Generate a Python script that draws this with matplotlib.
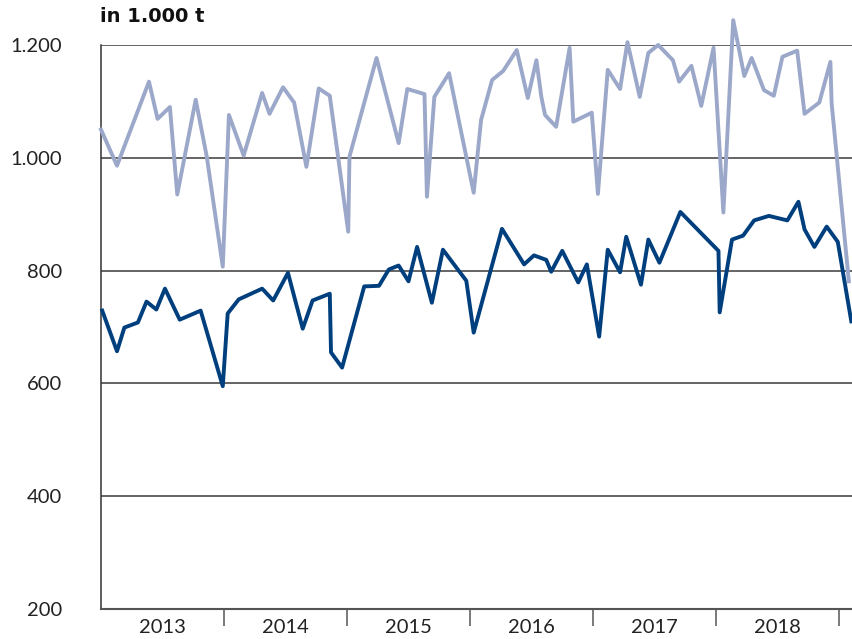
import numpy as np
import matplotlib.pyplot as plt

# Zeitpunkte als Dezimaljahre, Werte in 1.000 t
x_hell = [2013.00, 2013.13, 2013.39, 2013.46, 2013.56, 2013.62, 2013.77, 2013.86, 2013.99,
          2014.04, 2014.16, 2014.31, 2014.37, 2014.48, 2014.57, 2014.67, 2014.77, 2014.86,
          2015.01, 2015.02, 2015.24, 2015.42, 2015.49, 2015.63, 2015.65, 2015.71, 2015.83,
          2016.03, 2016.09, 2016.18, 2016.27, 2016.38, 2016.47, 2016.54, 2016.58, 2016.61,
          2016.70, 2016.81, 2016.84, 2016.99, 2017.04, 2017.12, 2017.22, 2017.28, 2017.38,
          2017.45, 2017.53, 2017.65, 2017.70, 2017.80, 2017.88, 2017.98, 2018.06, 2018.14,
          2018.23, 2018.29, 2018.39, 2018.47, 2018.54, 2018.66, 2018.72, 2018.84, 2018.93,
          2018.94, 2019.08]
y_hell = [1050, 986, 1135, 1069, 1090, 935, 1103, 1002, 807,
          1076, 1004, 1115, 1078, 1125, 1098, 984, 1123, 1110,
          869, 1002, 1177, 1026, 1122, 1113, 931, 1108, 1150,
          938, 1067, 1138, 1154, 1191, 1106, 1173, 1108, 1076,
          1055, 1195, 1064, 1080, 936, 1156, 1122, 1205, 1108,
          1186, 1200, 1173, 1135, 1163, 1092, 1195, 903, 1244,
          1145, 1177, 1120, 1110, 1179, 1190, 1078, 1098, 1170,
          1097, 781]

x_dunkel = [2013.01, 2013.13, 2013.19, 2013.30, 2013.37, 2013.45, 2013.52, 2013.64, 2013.81,
            2013.99, 2014.03, 2014.12, 2014.31, 2014.40, 2014.52, 2014.64, 2014.72, 2014.86,
            2014.87, 2014.96, 2015.14, 2015.26, 2015.34, 2015.42, 2015.50, 2015.57, 2015.69,
            2015.78, 2015.97, 2016.03, 2016.26, 2016.44, 2016.52, 2016.62, 2016.66, 2016.75,
            2016.88, 2016.95, 2017.05, 2017.12, 2017.22, 2017.27, 2017.39, 2017.45, 2017.54,
            2017.71, 2018.02, 2018.03, 2018.13, 2018.22, 2018.31, 2018.43, 2018.58, 2018.67,
            2018.72, 2018.80, 2018.90, 2018.99, 2019.10]
y_dunkel = [729, 657, 699, 708, 745, 731, 768, 713, 729,
            595, 724, 749, 768, 747, 796, 697, 747, 759,
            655, 628, 772, 773, 802, 809, 781, 842, 743,
            837, 782, 690, 874, 811, 827, 819, 798, 835,
            779, 811, 683, 837, 797, 860, 775, 855, 814,
            904, 835, 726, 855, 862, 889, 897, 889, 922,
            873, 842, 878, 851, 710]

jahre = [2013, 2014, 2015, 2016, 2017, 2018]
y_ticks = [200, 400, 600, 800, 1000, 1200]
y_labels = ['200', '400', '600', '800', '1.000', '1.200']

plt.rcParams['font.family'] = ['Lato', 'DejaVu Sans']

fig = plt.figure(figsize=(8.52, 6.39), dpi=100)
ax = fig.add_axes([101/852, 30/639, 751/852, 564/639])

ax.plot(x_hell, y_hell, color='#9ba8ca', lw=2.8, clip_on=False, zorder=3)
ax.plot(x_dunkel, y_dunkel, color='#003f7d', lw=2.8, clip_on=False, zorder=4)

ax.set_xlim(2013, 2013 + 751/123)
ax.set_ylim(200, 1200)

# Gitterlinien
ax.set_yticks(y_ticks)
ax.set_yticklabels(y_labels, fontsize=14.5, color='#222222')
ax.tick_params(axis='y', length=0, pad=28)
ax.yaxis.grid(True, color='#3a3a3a', lw=1.1)
ax.set_axisbelow(True)

# Jahrestrenner und Beschriftung
ax.set_xticks([j + 1 for j in jahre])
ax.set_xticklabels([])
ax.set_xticks([j + 0.5 for j in jahre], minor=True)
ax.set_xticklabels([str(j) for j in jahre], minor=True, fontsize=14.5, color='#222222')
ax.tick_params(axis='x', which='major', length=12, width=1.1, color='#555555', direction='out')
ax.tick_params(axis='x', which='minor', length=0, pad=7)

for s in ['top', 'right']:
    ax.spines[s].set_visible(False)
ax.spines['left'].set_color('#333333')
ax.spines['left'].set_linewidth(1.1)
ax.spines['bottom'].set_color('#555555')
ax.spines['bottom'].set_linewidth(1.5)

fig.text(100/852, 1 - 16/639, 'in 1.000 t', fontsize=14, fontweight='bold',
         family='DejaVu Sans', va='center', ha='left', color='#111111')

plt.savefig('out.png', dpi=100)
